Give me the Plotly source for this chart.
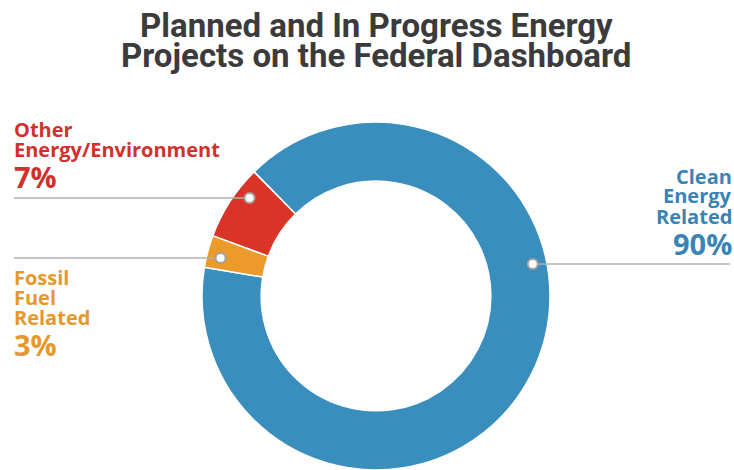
import math
import plotly.graph_objects as go

# Share of planned and in-progress energy projects by category
categories = ["Clean Energy Related", "Fossil Fuel Related", "Other Energy/Environment"]
shares = [90, 3, 7]
slice_colors = ["#3a8ebd", "#ec9a2a", "#da3327"]
label_colors = ["#3a84b5", "#e6982b", "#d1312c"]
label_lines = [["Clean", "Energy", "Related"], ["Fossil", "Fuel", "Related"], ["Other", "Energy/Environment"]]
pct_text = [f"{v}%" for v in shares]

title_lines = ["Planned and In Progress Energy", "Projects on the Federal Dashboard"]

W, H = 734, 470
CX, CY, R = 376, 296, 174          # donut centre and outer radius (px)
HOLE = 0.66
DOT_R = 160                        # radius at which the callout dots sit (px)
LINE_STEP = 20                     # vertical spacing of callout text lines (px)


def px(x):
    return x / W


def py(y):
    return 1 - y / H


fig = go.Figure(go.Pie(
    labels=categories,
    values=shares,
    sort=False,
    direction="clockwise",
    rotation=-44.5,
    hole=HOLE,
    textinfo="none",
    hoverinfo="label+percent",
    marker=dict(colors=slice_colors, line=dict(color="white", width=1.5)),
    domain=dict(x=[px(CX - R), px(CX + R)], y=[py(CY + R), py(CY - R)]),
    showlegend=False,
))

shapes = []
annotations = []

# Title, one annotation per line for tight line spacing
for t, yc in zip(title_lines, [26, 55]):
    annotations.append(dict(
        text=f"<b>{t}</b>", x=px(CX), y=py(yc), xref="paper", yref="paper",
        xanchor="center", yanchor="middle", showarrow=False,
        font=dict(family="Roboto", size=33, color="#3b3b3b"),
    ))

# Callouts: leader line y, which side the label sits, label block placement
callouts = [
    dict(idx=0, lead_y=264, side="right", text_x=734, top_y=176, pct_y=243),
    dict(idx=1, lead_y=258, side="left", text_x=12, top_y=277, pct_y=344),
    dict(idx=2, lead_y=198, side="left", text_x=12, top_y=129, pct_y=176),
]

for c in callouts:
    i = c["idx"]
    dy = CY - c["lead_y"]
    dx = math.sqrt(DOT_R ** 2 - dy ** 2)
    dot_x = CX + dx if c["side"] == "right" else CX - dx
    end_x = 730 if c["side"] == "right" else 14
    shapes.append(dict(
        type="line", xref="paper", yref="paper",
        x0=px(end_x), x1=px(dot_x), y0=py(c["lead_y"]), y1=py(c["lead_y"]),
        line=dict(color="#b0b0b0", width=1.5), layer="above",
    ))
    shapes.append(dict(
        type="circle", xref="paper", yref="paper",
        xsizemode="pixel", ysizemode="pixel",
        xanchor=px(dot_x), yanchor=py(c["lead_y"]),
        x0=-5, x1=5, y0=-5, y1=5,
        fillcolor="white", line=dict(color="#a0a0a0", width=2), layer="above",
    ))
    anchor = "right" if c["side"] == "right" else "left"
    for k, line in enumerate(label_lines[i]):
        annotations.append(dict(
            text=f"<b>{line}</b>", x=px(c["text_x"]), y=py(c["top_y"] + k * LINE_STEP),
            xref="paper", yref="paper", xanchor=anchor, yanchor="middle",
            showarrow=False,
            font=dict(family="Open Sans", size=20, color=label_colors[i]),
        ))
    annotations.append(dict(
        text=f"<b>{pct_text[i]}</b>", x=px(c["text_x"]), y=py(c["pct_y"]),
        xref="paper", yref="paper", xanchor=anchor, yanchor="middle",
        showarrow=False,
        font=dict(family="Open Sans", size=29, color=label_colors[i]),
    ))

fig.update_layout(
    width=W, height=H,
    margin=dict(l=0, r=0, t=0, b=0),
    paper_bgcolor="white", plot_bgcolor="white",
    shapes=shapes, annotations=annotations,
)

fig.write_html("out.html")
